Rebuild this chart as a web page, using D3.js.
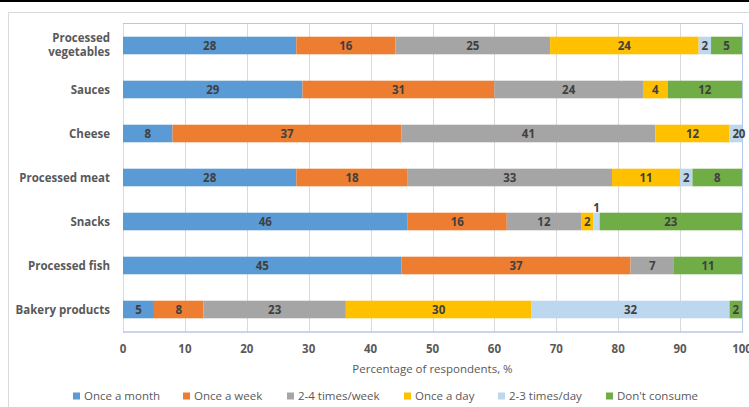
<!DOCTYPE html>
<html>
<head>
<meta charset="utf-8">
<script src="https://cdn.jsdelivr.net/npm/d3@7"></script>
<style>
  html, body { margin: 0; padding: 0; background: #fff; }
  svg { display: block; font-family: "Open Sans", "Liberation Sans", sans-serif; }
</style>
</head>
<body>
<svg id="chart" width="749" height="407"></svg>
<script>
// Food categories, top to bottom
const categories = [
  "Processed vegetables", "Sauces", "Cheese", "Processed meat",
  "Snacks", "Processed fish", "Bakery products"
];

// Consumption frequency groups (stack order, left to right)
const seriesNames = [
  "Once a month", "Once a week", "2-4 times/week",
  "Once a day", "2-3 times/day", "Don't consume"
];

// Percentage of respondents per category, one array per frequency group
const onceAMonth   = [28, 29,  8, 28, 46, 45,  5];
const onceAWeek    = [16, 31, 37, 18, 16, 37,  8];
const twoFourWeek  = [25, 24, 41, 33, 12,  7, 23];
const onceADay     = [24,  4, 12, 11,  2,  0, 30];
const twoThreeDay  = [ 2,  0,  2,  2,  1,  0, 32];
const dontConsume  = [ 5, 12,  0,  8, 23, 11,  2];

// Which zero-width segments still carry a label ("0" on cheese)
const zeroLabelShown = { "Cheese|Don't consume": true };

const xTicks = [0, 10, 20, 30, 40, 50, 60, 70, 80, 90, 100];

const colors = ["#5B9BD5", "#ED7D31", "#A5A5A5", "#FFC000", "#BDD7EE", "#70AD47"];

const seriesValues = [onceAMonth, onceAWeek, twoFourWeek, onceADay, twoThreeDay, dontConsume];
const rows = categories.map((c, i) => {
  const r = { category: c };
  seriesNames.forEach((s, j) => { r[s] = seriesValues[j][i]; });
  return r;
});

const svg = d3.select("#chart");

// chart frame
svg.append("rect").attr("x", 0).attr("y", 0).attr("width", 749).attr("height", 2).attr("fill", "#000");
svg.append("path")
  .attr("d", "M8.5,407 V12.5 H749")
  .attr("fill", "none").attr("stroke", "#D9D9D9").attr("stroke-width", 1);

const plot = { left: 123, right: 742, top: 23.5, bottom: 331.5 };

const x = d3.scaleLinear().domain([0, 100]).range([plot.left, plot.right]);
const y = d3.scaleBand().domain(categories).range([plot.top, plot.bottom]).paddingInner(0.6).paddingOuter(0.3);

// vertical gridlines
svg.append("g").selectAll("line").data(xTicks).join("line")
  .attr("x1", d => Math.round(x(d)) + 0.5).attr("x2", d => Math.round(x(d)) + 0.5)
  .attr("y1", plot.top).attr("y2", plot.bottom)
  .attr("stroke", "#D9D9D9").attr("stroke-width", 1);

// plot area border (top and right)
svg.append("path")
  .attr("d", `M${plot.left},${plot.top} H${Math.round(plot.right) + 0.5} V${plot.bottom}`)
  .attr("fill", "none").attr("stroke", "#B4C7E7").attr("stroke-width", 1);

const stacked = d3.stack().keys(seriesNames)(rows);

const layers = svg.append("g").selectAll("g").data(stacked).join("g")
  .attr("fill", (d, i) => colors[i]);

layers.selectAll("rect").data(d => d.map(p => ({ p, key: d.key }))).join("rect")
  .attr("x", d => x(d.p[0]))
  .attr("y", d => y(d.p.data.category))
  .attr("width", d => x(d.p[1]) - x(d.p[0]))
  .attr("height", y.bandwidth());

// bottom axis line
svg.append("line")
  .attr("x1", plot.left).attr("x2", Math.round(plot.right) + 1)
  .attr("y1", plot.bottom + 0.5).attr("y2", plot.bottom + 0.5)
  .attr("stroke", "#8FAADC").attr("stroke-width", 1);

// data labels
const labelData = [];
stacked.forEach(layer => {
  layer.forEach(p => {
    const v = p[1] - p[0];
    const cat = p.data.category;
    if (v > 0 || zeroLabelShown[cat + "|" + layer.key]) {
      labelData.push({ cat, key: layer.key, v, mid: (p[0] + p[1]) / 2 });
    }
  });
});

svg.append("g").selectAll("text").data(labelData).join("text")
  .attr("x", d => x(d.mid))
  .attr("y", d => {
    const base = y(d.cat) + y.bandwidth() / 2;
    // tiny snacks segment label sits above the bar
    if (d.cat === "Snacks" && d.key === "2-3 times/day") return base - 14;
    return base;
  })
  .attr("dy", "0.36em")
  .attr("text-anchor", "middle")
  .attr("font-size", 11.5)
  .attr("font-weight", 700)
  .attr("fill", "#404040")
  .text(d => d.v);

// category labels
const catLabels = svg.append("g").selectAll("text").data(categories).join("text")
  .attr("text-anchor", "end")
  .attr("font-size", 11.5)
  .attr("font-weight", 700)
  .attr("fill", "#595959")
  .attr("x", 110)
  .attr("y", d => y(d) + y.bandwidth() / 2);

catLabels.each(function(d) {
  const t = d3.select(this);
  if (d === "Processed vegetables") {
    t.append("tspan").attr("x", 110).attr("dy", "-0.3em").text("Processed");
    t.append("tspan").attr("x", 110).attr("dy", "1.25em").text("vegetables");
  } else {
    t.attr("dy", "0.36em").text(d);
  }
});

// x tick labels
svg.append("g").selectAll("text").data(xTicks).join("text")
  .attr("x", d => x(d))
  .attr("y", 349)
  .attr("dy", "0.36em")
  .attr("text-anchor", "middle")
  .attr("font-size", 11.5)
  .attr("font-weight", 700)
  .attr("fill", "#595959")
  .text(d => d);

// axis title
svg.append("text")
  .attr("x", (plot.left + plot.right) / 2)
  .attr("y", 369)
  .attr("dy", "0.36em")
  .attr("text-anchor", "middle")
  .attr("font-size", 11.5)
  .attr("fill", "#595959")
  .text("Percentage of respondents, %");

// legend
const legendX = [73, 183, 287, 404, 498, 606];
const legend = svg.append("g").selectAll("g").data(seriesNames).join("g")
  .attr("transform", (d, i) => `translate(${legendX[i]},396)`);
legend.append("rect").attr("x", 0).attr("y", -3.5).attr("width", 7).attr("height", 7)
  .attr("fill", (d, i) => colors[i]);
legend.append("text").attr("x", 11).attr("dy", "0.36em")
  .attr("font-size", 11.5).attr("fill", "#595959")
  .text(d => d);
</script>
</body>
</html>
